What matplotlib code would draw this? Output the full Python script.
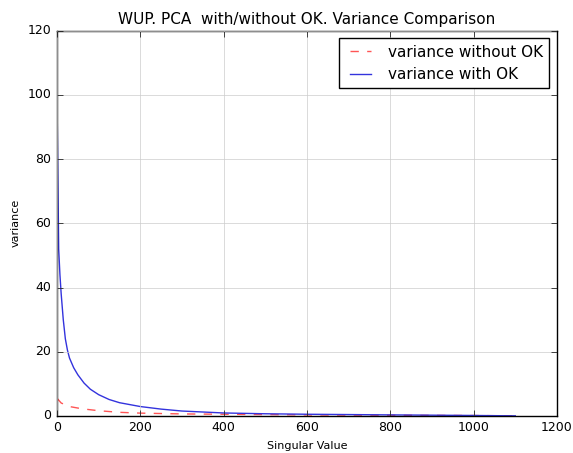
import numpy as np
import matplotlib
matplotlib.use('Agg')
import matplotlib.pyplot as plt

# singular value index
x_with = [0, 2, 4, 7, 10, 15, 20, 25, 30, 40, 50, 65, 80, 100, 125, 150, 200, 250,
          300, 400, 500, 600, 800, 1000, 1100]
var_with = [100, 75, 52, 44, 38, 30, 24, 20.5, 18, 15, 12.8, 10.2, 8.3, 6.6, 5.1, 4.1, 2.9, 2.1,
            1.5, 0.9, 0.65, 0.5, 0.3, 0.12, 0.0]

x_without = [0, 10, 30, 60, 100, 150, 200, 300, 400, 600, 800, 1000, 1100]
var_without = [5.5, 4.0, 2.9, 2.2, 1.6, 1.1, 0.85, 0.6, 0.5, 0.3, 0.2, 0.1, 0.0]

plt.style.use('classic')
fig = plt.figure(figsize=(5.73, 4.53), dpi=100)
ax = fig.add_axes([0.0995, 0.082, 0.8725, 0.850])

ax.plot(x_without, var_without, '--', color='#ff5555', label='variance without OK')
ax.plot(x_with, var_with, '-', color='#3333dd', label='variance with OK')

ax.set_xlim(0, 1200)
ax.set_ylim(0, 120)
ax.grid(True, color='#cccccc', linestyle='-')
ax.tick_params(labelsize=9)
ax.set_xlabel('Singular Value', fontsize=8)
ax.set_ylabel('variance', fontsize=8)
ax.set_title('WUP. PCA  with/without OK. Variance Comparison', fontsize=11)
ax.legend(loc='upper right', fontsize=11)

fig.savefig('out.png', dpi=100)
